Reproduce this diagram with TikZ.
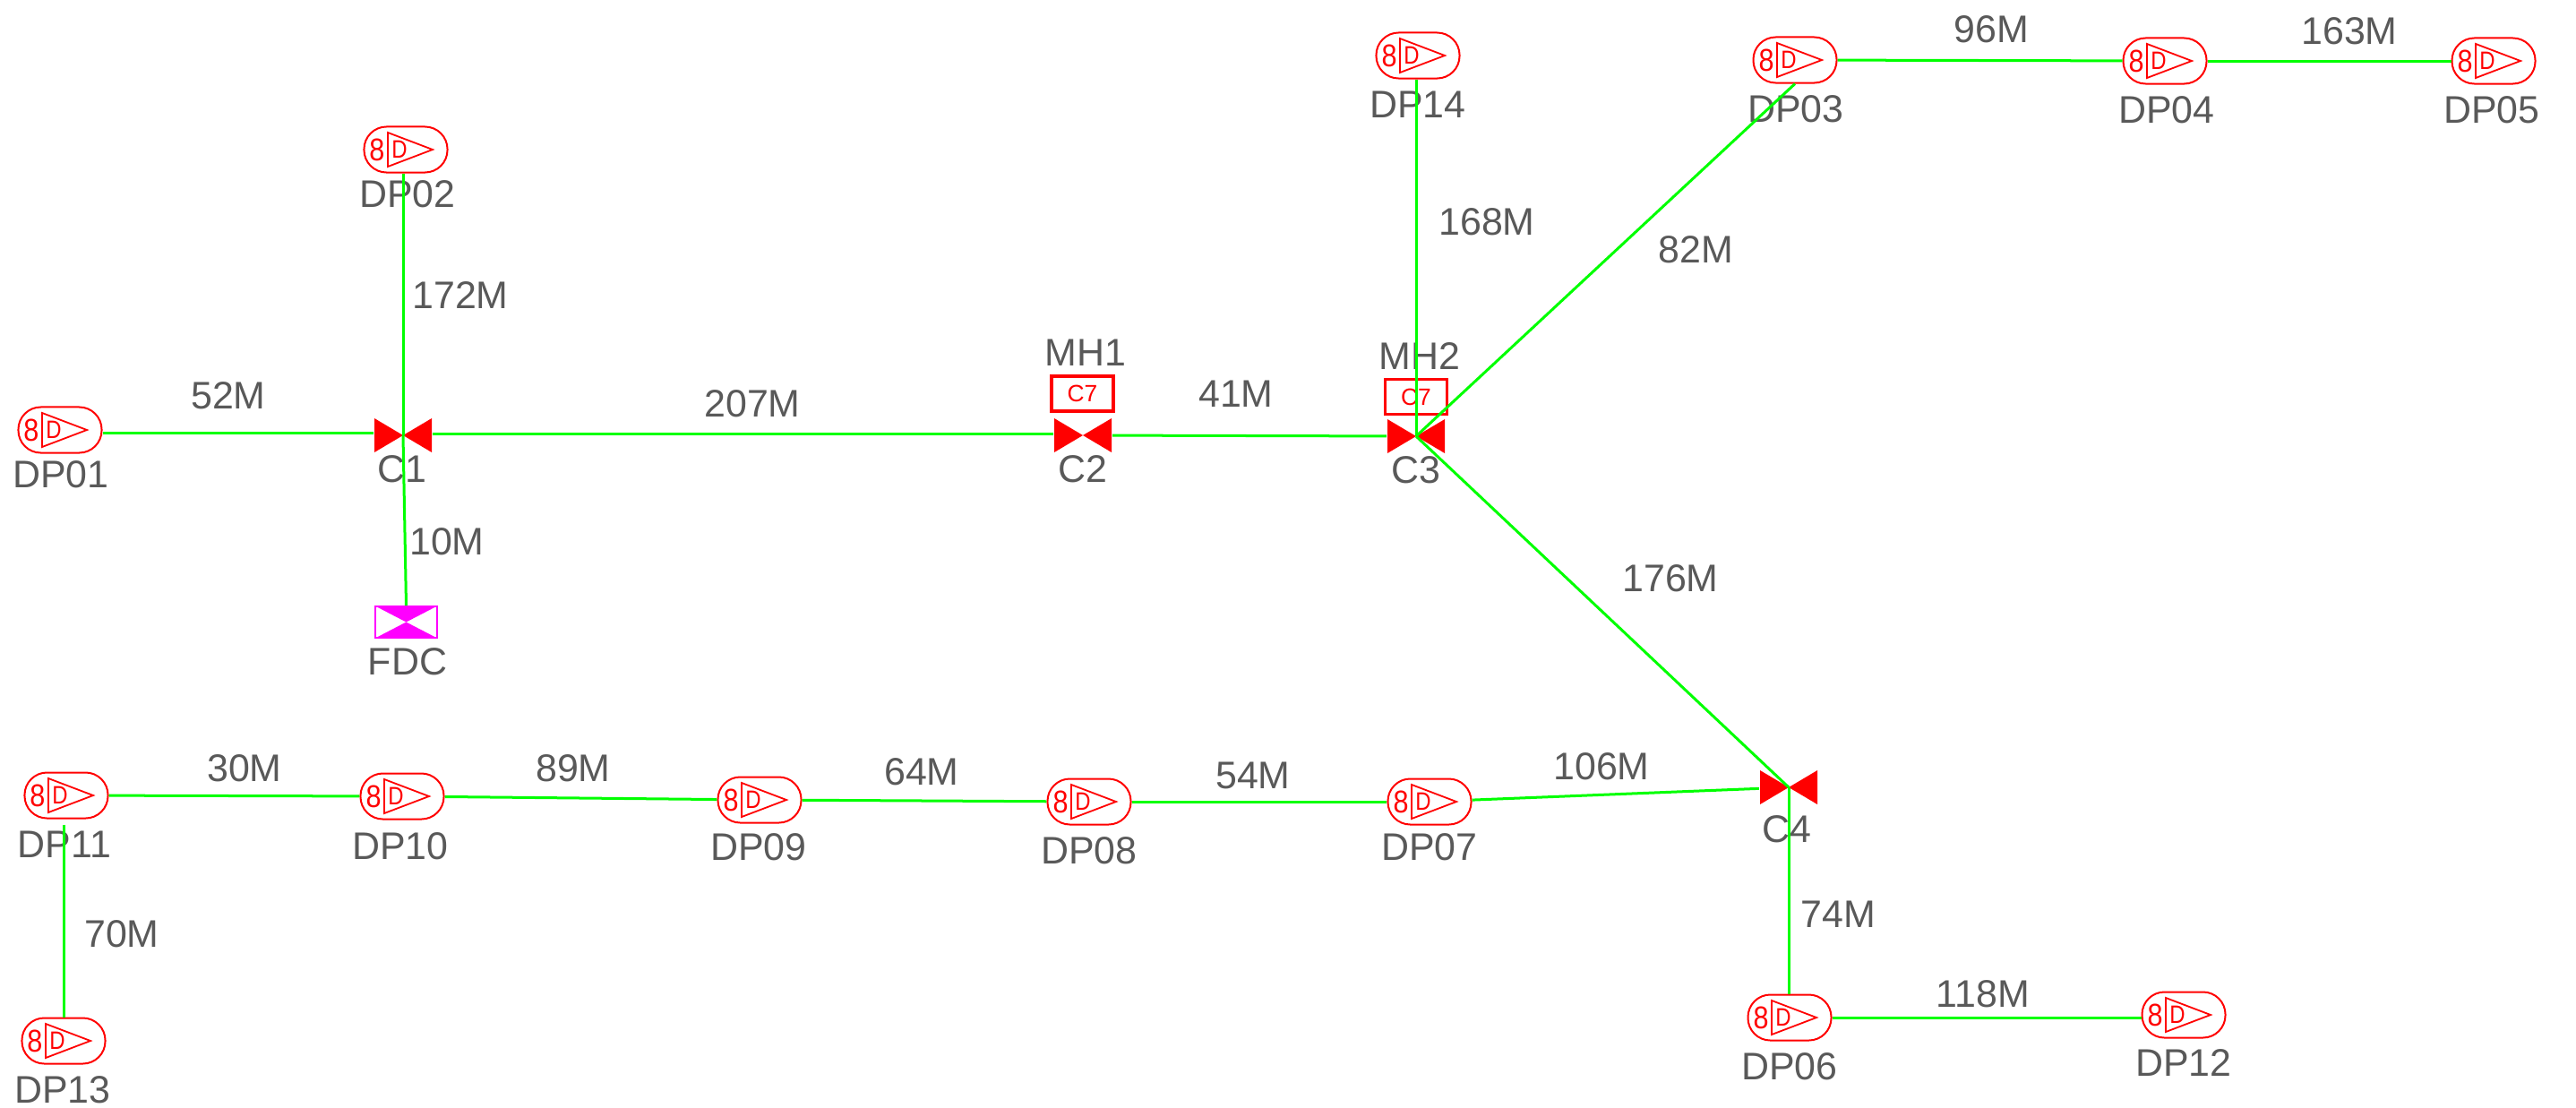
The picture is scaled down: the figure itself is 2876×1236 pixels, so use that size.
\documentclass[tikz,border=0pt]{standalone}
\usepackage{fontspec}
\setmainfont{Liberation Sans}
\usepackage{xcolor}
\usetikzlibrary{positioning}
\definecolor{cablegreen}{RGB}{0,255,0}
\definecolor{labelgrey}{RGB}{89,89,89}
\definecolor{fdcpink}{RGB}{255,0,255}
\definecolor{symred}{RGB}{255,0,0}
\tikzstyle{cable} = [line width=0.03cm,color=cablegreen]
\tikzstyle{lbl} = [inner sep=0pt,text=labelgrey,font=\fontsize{12.2}{14}\selectfont]
\tikzstyle{dpbox} = [draw=symred,line width=0.02cm,rounded corners=0.25cm,minimum width=0.93cm,minimum height=0.51cm,inner sep=0pt]
\tikzstyle{valve} = [minimum width=0.65cm,minimum height=0.38cm,inner sep=0pt]
\tikzstyle{mhbox} = [draw=symred,line width=0.038cm,minimum width=0.69cm,minimum height=0.39cm,inner sep=0pt,text=symred,font=\fontsize{7.5}{9}\selectfont]

\begin{document}
\begin{tikzpicture}[x=0.01cm,y=-0.01cm]
\useasboundingbox (0,0) rectangle (2876,1236);

% Distribution points
\foreach \nm/\x/\y/\lx/\ly/\lab in {
  dp01/67/480/68/530/DP01, dp02/453/167/455/217/DP02, dp03/2004/67/2005/122/DP03,
  dp04/2417/68/2419/123/DP04, dp05/2784/68/2782/123/DP05, dp06/1998/1136/1998/1191/DP06,
  dp07/1596/895/1596/946/DP07, dp08/1216/895/1216/950/DP08, dp09/848/893/847/946/DP09,
  dp10/449/889/447/945/DP10, dp11/74/888/72/943/DP11, dp12/2438/1133/2438/1187/DP12,
  dp13/71/1162/70/1217/DP13, dp14/1583/62/1583/117/DP14}{
  \node[lbl] (\nm lab) at (\lx,\ly) {\lab};
  \begin{scope}[shift={(\x,\y)}]
    \node[dpbox] (\nm) at (0,0) {};
    \draw[symred,line width=0.018cm] (-20,-19) -- (30,0) -- (-20,19) -- cycle;
    \node[inner sep=0pt,text=symred,font=\fontsize{10}{12}\selectfont] (\nm a) at (-32,0) {\scalebox{0.87}[1]{8}};
    \node[inner sep=0pt,text=symred,font=\fontsize{8}{10}\selectfont] (\nm b) at (-7,0) {\scalebox{0.85}[1]{D}};
  \end{scope}
}

% Closures
\foreach \nm/\x/\y/\lx/\ly/\lab in {
  c1/450/486/449/524/C1, c2/1209/486/1209/524/C2,
  c3/1581/487/1581/525/C3, c4/1997/879/1995/926/C4}{
  \node[lbl] (\nm lab) at (\lx,\ly) {\lab};
  \begin{scope}[shift={(\x,\y)}]
    \node[valve] (\nm) at (0,0) {};
    \fill[symred] (-32,-19) -- (0,0) -- (-32,19) -- cycle;
    \fill[symred] (32,-19) -- (0,0) -- (32,19) -- cycle;
  \end{scope}
}

% FDC
\node[draw=fdcpink,line width=0.016cm,minimum width=0.69cm,minimum height=0.35cm,inner sep=0pt] (fdc) at (453.5,694.5) {};
\fill[fdcpink] (fdc.north west) -- (fdc.north east) -- (fdc.center) -- cycle;
\fill[fdcpink] (fdc.south west) -- (fdc.south east) -- (fdc.center) -- cycle;
\node[lbl] (fdclab) at (455,739) {FDC};

% Manholes
\node[mhbox] (mh1) at (1208.5,439.5) {C7};
\node[lbl] (mh1lab) at (1212,394) {MH1};
\node[mhbox] (mh2) at (1581,443) {C7};
\node[lbl] (mh2lab) at (1585,398) {MH2};

% Cables
\coordinate (dp01out) at ([yshift=-0.03cm]dp01.east);
\coordinate (dp11end) at ([yshift=-0.06cm]dp11.south);
\draw[cable] (dp01out) -- (dp01out -| c1.west);
\draw[cable] ([yshift=0.02cm]c1.east) -- ([yshift=0.02cm]c2.west);
\draw[cable] (c2) -- (c3);
\draw[cable] (c1.center) -- (c1.center |- dp02.south);
\draw[cable] (c1.center) -- (fdc.north);
\draw[cable] (c3.center) -- (c3.center |- dp14.south);
\draw[cable] (c3.center) -- (dp03.south);
\draw[cable] (c3.center) -- (c4.center);
\draw[cable] (c4.center) -- (c4.center |- dp06.north);
\draw[cable] (dp03) -- (dp04);
\draw[cable] (dp04) -- (dp05);
\draw[cable] (dp06) -- (dp06 -| dp12.west);
\draw[cable] (dp07) -- (c4);
\draw[cable] (dp08) -- (dp07);
\draw[cable] (dp09) -- (dp08);
\draw[cable] (dp10) -- (dp09);
\draw[cable] (dp11) -- (dp10);
\draw[cable] (dp13.north |- dp11end) -- (dp13.north);

% Lengths
\node[lbl] (len52) at (255,442) {52M};
\node[lbl] (len172) at (514,330) {172M};
\node[lbl] (len10) at (499,605) {10M};
\node[lbl] (len207) at (840,451) {207M};
\node[lbl] (len41) at (1380,440) {41M};
\node[lbl] (len168) at (1660,248) {168M};
\node[lbl] (len82) at (1893,279) {82M};
\node[lbl] (len96) at (2223,33) {96M};
\node[lbl] (len163) at (2623,35) {163M};
\node[lbl] (len176) at (1865,646) {176M};
\node[lbl] (len106) at (1788,856) {106M};
\node[lbl] (len74) at (2052,1021) {74M};
\node[lbl] (len118) at (2214,1110) {118M};
\node[lbl] (len30) at (273,858) {30M};
\node[lbl] (len89) at (640,858) {89M};
\node[lbl] (len64) at (1029,862) {64M};
\node[lbl] (len54) at (1399,866) {54M};
\node[lbl] (len70) at (136,1043) {70M};
\end{tikzpicture}
\end{document}
